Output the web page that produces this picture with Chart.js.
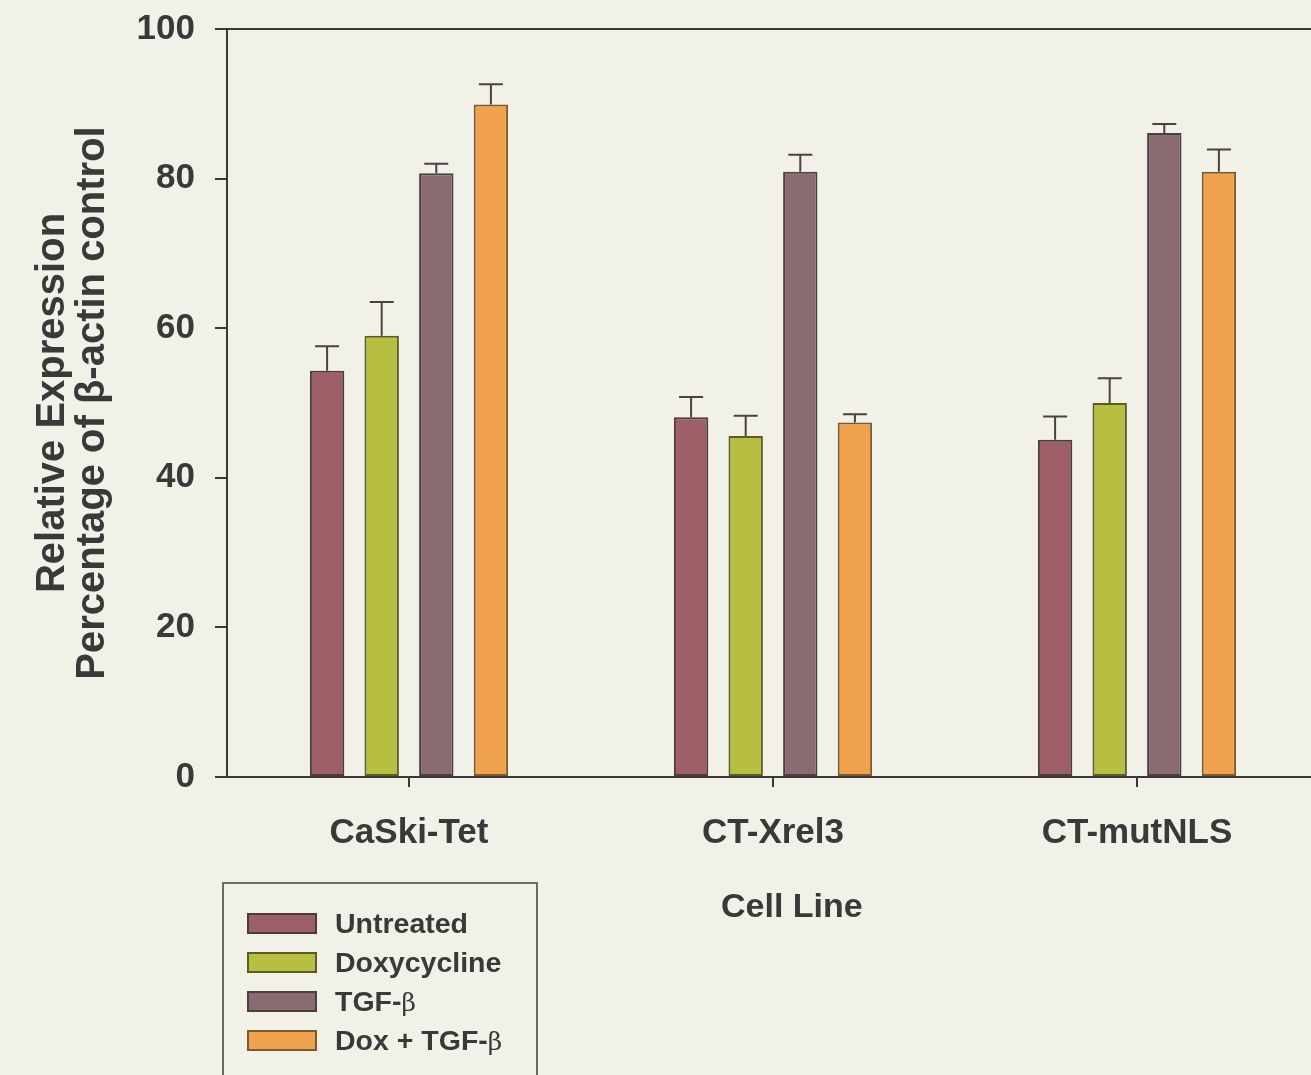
<!DOCTYPE html>
<html>
<head>
<meta charset="utf-8">
<title>Relative Expression by Cell Line</title>
<script src="https://cdn.jsdelivr.net/npm/chart.js@4.4.1/dist/chart.umd.min.js"></script>
<style>
  html, body { margin: 0; padding: 0; background: #f2f1e8; width: 1311px; height: 1075px; overflow: hidden; }
  #wrap { position: absolute; left: 0; top: 0; width: 1340px; height: 1075px; }
  #legend {
    position: absolute; left: 222px; top: 882px; width: 312px; height: 220px;
    border: 2px solid #6b6a66;
    font-family: "Liberation Sans", Arial, sans-serif; font-weight: bold; font-size: 28.5px; color: #3a3838;
  }
  .item { position: absolute; left: 23px; height: 30px; display: flex; align-items: center; white-space: nowrap; }
  .sw { width: 66px; height: 17px; border: 2px solid; margin-right: 18px; }
  .beta { font-family: "DejaVu Serif", serif; font-weight: normal; font-size: 25px; }
</style>
</head>
<body>
<div id="wrap"><canvas id="chart" width="1340" height="1075"></canvas></div>
<div id="legend"></div>
<script>
// Cell lines on the x axis
const cellLines = ['CaSki-Tet', 'CT-Xrel3', 'CT-mutNLS'];
// Treatment groups (series)
const treatments = ['Untreated', 'Doxycycline', 'TGF-β', 'Dox + TGF-β'];
// Mean relative expression (% of β-actin control) and upper error (SD)
const untreated      = [54.3, 48.1, 45.1];
const untreatedErr   = [3.3, 2.7, 3.1];
const doxycycline    = [59.0, 45.6, 50.0];
const doxycyclineErr = [4.5, 2.7, 3.3];
const tgfBeta        = [80.7, 80.9, 86.1];
const tgfBetaErr     = [1.3, 2.3, 1.2];
const doxTgfBeta     = [89.9, 47.4, 80.9];
const doxTgfBetaErr  = [2.7, 1.1, 3.0];
// Y axis tick values
const yTicks = [0, 20, 40, 60, 80, 100];

const fills   = ['#9d6068', '#b7bf42', '#8b6b72', '#f0a24f'];
const borders = ['#4d3a3d', '#5a5c24', '#4a3f42', '#7a5a30'];
const ink = '#3a3838';
const axisInk = '#3d3838';
const font = '"Liberation Sans", Arial, sans-serif';

const seriesValues = [untreated, doxycycline, tgfBeta, doxTgfBeta];
const seriesErrors = [untreatedErr, doxycyclineErr, tgfBetaErr, doxTgfBetaErr];

const datasets = treatments.map((name, i) => ({
  label: name,
  data: seriesValues[i],
  errors: seriesErrors[i],
  backgroundColor: fills[i],
  borderColor: borders[i],
  borderWidth: 2,
  borderSkipped: false,
  categoryPercentage: 0.6,
  barPercentage: 0.63
}));

// Upper error bars with caps, plus the top frame line of the plot
const errorBars = {
  id: 'errorBars',
  afterDatasetsDraw(chart) {
    const ctx = chart.ctx;
    const y = chart.scales.y;
    ctx.save();
    ctx.strokeStyle = '#4a4242';
    ctx.lineWidth = 2;
    chart.data.datasets.forEach((ds, i) => {
      const meta = chart.getDatasetMeta(i);
      meta.data.forEach((bar, j) => {
        const top = y.getPixelForValue(ds.data[j]);
        const hi = y.getPixelForValue(ds.data[j] + ds.errors[j]);
        ctx.beginPath();
        ctx.moveTo(bar.x, top);
        ctx.lineTo(bar.x, hi);
        ctx.moveTo(bar.x - 12, hi);
        ctx.lineTo(bar.x + 12, hi);
        ctx.stroke();
      });
    });
    const a = chart.chartArea;
    ctx.strokeStyle = axisInk;
    ctx.beginPath();
    ctx.moveTo(a.left, a.top);
    ctx.lineTo(a.right, a.top);
    ctx.stroke();
    ctx.restore();
  }
};

new Chart(document.getElementById('chart'), {
  type: 'bar',
  data: { labels: cellLines, datasets },
  plugins: [errorBars],
  options: {
    responsive: false,
    maintainAspectRatio: false,
    animation: false,
    devicePixelRatio: 1,
    layout: { padding: { top: 29, right: 21, bottom: 0, left: 0 } },
    plugins: { legend: { display: false }, tooltip: { enabled: false } },
    scales: {
      x: {
        type: 'category',
        offset: true,
        grid: { drawOnChartArea: false, offset: false, drawTicks: true, tickLength: 10, color: axisInk, lineWidth: 2 },
        border: { display: true, color: axisInk, width: 2 },
        ticks: { color: ink, font: { family: font, size: 35, weight: 'bold' }, padding: 25, maxRotation: 0 },
        title: { display: true, text: '    Cell Line', color: ink, font: { family: font, size: 34, weight: 'bold', lineHeight: 1.2 }, padding: { top: 0, bottom: 147 } },
        afterFit(scale) { scale.height = 298; scale.paddingLeft = 0; scale.paddingRight = 0; }
      },
      y: {
        min: 0,
        max: 100,
        afterBuildTicks(scale) { scale.ticks = yTicks.map(v => ({ value: v })); },
        grid: { drawOnChartArea: false, drawTicks: true, tickLength: 12, color: axisInk, lineWidth: 2 },
        border: { display: true, color: axisInk, width: 2 },
        ticks: { color: ink, font: { family: font, size: 35, weight: 'bold' }, padding: 20 },
        title: {
          display: true,
          text: ['Relative Expression', 'Percentage of β-actin control'],
          color: ink,
          font: { family: font, size: 40, weight: 'bold', lineHeight: 1.0 },
          padding: { top: 33, bottom: 0 }
        },
        afterFit(scale) { scale.width = 227; scale.paddingTop = 0; scale.paddingBottom = 0; }
      }
    }
  }
});

// Legend box built from the series names and colours
const legend = document.getElementById('legend');
treatments.forEach((name, i) => {
  const row = document.createElement('div');
  row.className = 'item';
  row.style.top = (24 + i * 39) + 'px';
  const sw = document.createElement('span');
  sw.className = 'sw';
  sw.style.background = fills[i];
  sw.style.borderColor = borders[i];
  row.appendChild(sw);
  const label = document.createElement('span');
  name.split('β').forEach((part, k, arr) => {
    label.appendChild(document.createTextNode(part));
    if (k < arr.length - 1) {
      const b = document.createElement('span');
      b.className = 'beta';
      b.textContent = 'β';
      label.appendChild(b);
    }
  });
  row.appendChild(label);
  legend.appendChild(row);
});
</script>
</body>
</html>
